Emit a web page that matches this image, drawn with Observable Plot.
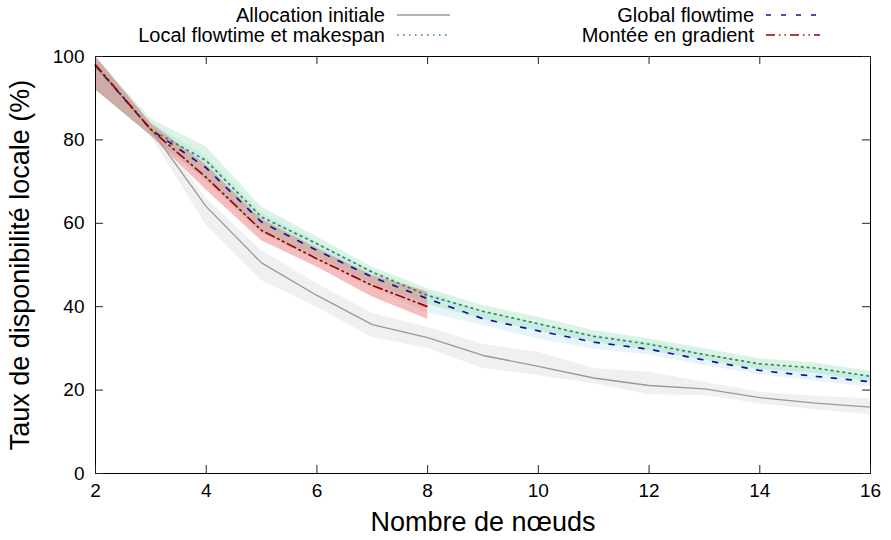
<!DOCTYPE html>
<html><head><meta charset="utf-8">
<script src="https://cdn.jsdelivr.net/npm/d3@7"></script>
<script src="https://cdn.jsdelivr.net/npm/@observablehq/plot@0.6"></script>
<style>
body{margin:0;background:#fff;font-family:"Liberation Sans",Arial,sans-serif;}
#legend{width:891px;height:46px;}
#legend svg, #chart svg{display:block;}
</style></head><body>
<div id="legend"></div>
<div id="chart"></div>
<script>
// ---- data ----
const nodes = [2,3,4,5,6,7,8,9,10,11,12,13,14,15,16];
const allocMean = [97.5,82.5,64,50.5,42.7,35.7,32.6,28.3,25.7,22.9,21.1,20.3,18.2,16.9,15.9];
const allocLo   = [92,81,59.5,46.3,39.8,32.6,30,25.2,23.5,21.5,18.9,18.7,16.7,15.3,14.1];
const allocHi   = [100,84,66,53.5,45.5,38.4,35,31,29.1,25.1,24.3,21.9,19.5,18.5,17.9];
const localMean = [97.8,82.5,75,61.5,55.1,48.3,42.7,38.9,35.9,32.9,31,28.5,26.3,25.3,23.3];
const localLo   = [92,81,70.5,58,52,45.5,40.5,37,34.2,31.4,29.5,27.2,24.9,24,22];
const localHi   = [100,85,78.3,63.9,56.7,49.5,44.3,40.3,37.5,34.3,32.3,29.9,27.5,26.5,24.5];
const globalMean= [97.8,82.5,73.3,60.3,53.5,47.1,41.9,37.1,34.2,31.5,29.8,27.2,24.7,23.3,22];
const globalLo  = [92,81,70,57.5,51,44.5,38.5,35.5,32.2,29.8,28.4,25.9,23.7,22.2,20.7];
const globalHi  = [100,84,76,62.5,55.5,48.5,43.5,38.8,36,33.2,31.5,28.8,26.3,25,23.6];
const gradNodes = [2,3,4,5,6,7,8];
const gradMean  = [98,82.5,71,58.3,51.5,45.1,40];
const gradLo    = [92,81,68,55.8,49.5,42.3,37];
const gradHi    = [100,84,74,61,54,47.5,43.5];
const xTicks = [2,4,6,8,10,12,14,16];
const yTicks = [0,20,40,60,80,100];
const labels = {
  alloc: "Allocation initiale",
  local: "Local flowtime et makespan",
  global: "Global flowtime",
  grad: "Montée en gradient"
};
const xLabel = "Nombre de nœuds";
const yLabel = "Taux de disponibilité locale (%)";

// ---- styles ----
const st = {
  alloc:  {stroke:"#999999", dash:null, width:1.3, fill:"#cccccc", op:0.3},
  global: {stroke:"#15158f", dash:"5,10", width:1.7, fill:"#87ceeb", op:0.2},
  local:  {stroke:"#2e8b57", dash:"1.5,4.5", width:1.7, fill:"#5cc88a", op:0.22},
  grad:   {stroke:"#a00000", dash:"9,4,1.5,4,1.5,4", width:1.7, fill:"#e65c5c", op:0.4}
};

const mk = (xs, m, lo, hi) => xs.map((x,i)=>({x, y:m[i], lo:lo[i], hi:hi[i]}));
const data = {
  alloc: mk(nodes, allocMean, allocLo, allocHi),
  global: mk(nodes, globalMean, globalLo, globalHi),
  local: mk(nodes, localMean, localLo, localHi),
  grad: mk(gradNodes, gradMean, gradLo, gradHi)
};

const W = 891, H = 494, mL = 95, mR = 21, mT = 10, mB = 67;
const pw = W - mL - mR, ph = H - mT - mB;
const order = ["alloc","global","local","grad"];
const marks = [];
for (const k of order) marks.push(Plot.areaY(data[k], {x:"x", y1:"lo", y2:"hi", fill: st[k].fill, fillOpacity: st[k].op}));
for (const k of order) marks.push(Plot.line(data[k], {x:"x", y:"y", stroke: st[k].stroke, strokeWidth: st[k].width, strokeDasharray: st[k].dash}));
marks.push(
  Plot.frame({stroke:"#000", strokeWidth:1}),
  Plot.tickX(xTicks, {x: d=>d, insetTop: ph-8, stroke:"#222"}),
  Plot.tickX(xTicks, {x: d=>d, insetBottom: ph-8, stroke:"#222"}),
  Plot.tickY(yTicks, {y: d=>d, insetRight: pw-8, stroke:"#222"}),
  Plot.tickY(yTicks, {y: d=>d, insetLeft: pw-8, stroke:"#222"}),
  Plot.axisX({ticks: xTicks, tickSize: 0, tickPadding: 10, label: null, fontSize: 19}),
  Plot.axisY({ticks: yTicks, tickSize: 0, tickPadding: 11, label: null, fontSize: 19}),
  Plot.text([xLabel], {frameAnchor:"bottom", dy: 57, text: d=>d, fontSize: 27, fill:"#000"}),
  Plot.text([yLabel], {frameAnchor:"left", dx: -75, rotate: -90, textAnchor: "middle", text: d=>d, fontSize: 27, fill:"#000"})
);

const chart = Plot.plot({
  width: W, height: H, marginLeft: mL, marginRight: mR, marginTop: mT, marginBottom: mB,
  style: {fontFamily: "'Liberation Sans', Arial, sans-serif", background: "white", color: "#000", overflow: "visible"},
  x: {domain: [2,16]},
  y: {domain: [0,100]},
  marks
});
document.getElementById("chart").appendChild(chart);

// ---- legend (above the SVG) ----
const leg = d3.select("#legend").append("svg").attr("width", W).attr("height", 46)
  .style("font-family", "'Liberation Sans', Arial, sans-serif");
const items = [
  {k:"alloc", tx:385, lx0:397, lx1:450, y:15},
  {k:"local", tx:385, lx0:397, lx1:450, y:35},
  {k:"global", tx:754, lx0:766, lx1:820, y:15},
  {k:"grad", tx:754, lx0:766, lx1:820, y:35}
];
for (const it of items) {
  leg.append("text").attr("x", it.tx).attr("y", it.y).attr("dy", "0.35em")
    .attr("text-anchor", "end").attr("font-size", 20).text(labels[it.k]);
  leg.append("line").attr("x1", it.lx0).attr("x2", it.lx1).attr("y1", it.y).attr("y2", it.y)
    .attr("stroke", st[it.k].stroke).attr("stroke-width", st[it.k].width)
    .attr("stroke-dasharray", st[it.k].dash);
}
</script>
</body></html>
